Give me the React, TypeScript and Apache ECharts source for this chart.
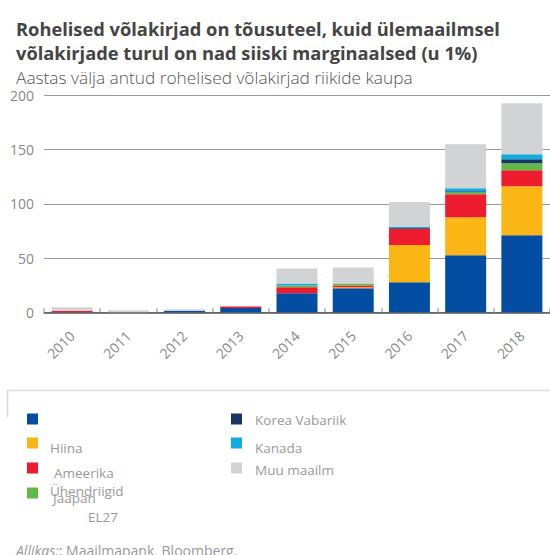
import React, { useEffect, useRef } from "react";
import * as echarts from "echarts";

const years = ["2010", "2011", "2012", "2013", "2014", "2015", "2016", "2017", "2018"];
const seriesNames = ["EL27", "Hiina", "Ameerika Ühendriigid", "Jaapan", "Korea Vabariik", "Kanada", "Muu maailm"];
const colors = ["#034ea2", "#fbb515", "#ed1c2e", "#62b847", "#1b3566", "#11ade0", "#d1d3d4"];
const el27 = [0, 0, 1.2, 4.0, 17.5, 22.1, 27.6, 52.5, 71];
const hiina = [0, 0, 0, 0, 0, 0.9, 34.4, 35.1, 45.1];
const usa = [1.3, 0, 0, 1.3, 5.5, 1.8, 14.9, 21.2, 14.8];
const jaapan = [0, 0, 0, 0, 1.8, 1.8, 0, 1.8, 6.4];
const korea = [0, 0, 0, 0, 0, 0, 0.9, 0.9, 3.7];
const kanada = [0, 0, 0, 0, 1.8, 0, 0.9, 2.8, 4.6];
const muu = [3.4, 1.8, 1.5, 0, 13.8, 14.7, 22.9, 40.5, 47];
const values = [el27, hiina, usa, jaapan, korea, kanada, muu];
const yTicks = { min: 0, max: 200, interval: 50 };

const FONT = "'Open Sans', sans-serif";

export default function App() {
  const ref = useRef<HTMLDivElement>(null);
  useEffect(() => {
    if (!ref.current) return;
    const chart = echarts.init(ref.current, null, { renderer: "svg" });
    const series = seriesNames.map((name, i) => ({
      name,
      type: "bar",
      stack: "total",
      data: values[i],
      barWidth: 41,
      itemStyle: { color: colors[i] },
      emphasis: { disabled: true },
    }));
    const legendItems = [
      { name: seriesNames[0], c: colors[0], ix: 27, iy: 419, tx: 88, ty: 517 },
      { name: seriesNames[1], c: colors[1], ix: 27, iy: 443, tx: 50, ty: 448 },
      { name: "Ameerika", c: colors[2], ix: 27, iy: 468, tx: 54, ty: 473 },
      { name: "Ühendriigid", c: "", ix: -1, iy: 0, tx: 50, ty: 491 },
      { name: seriesNames[3], c: colors[3], ix: 27, iy: 493, tx: 53, ty: 498 },
      { name: seriesNames[4], c: colors[4], ix: 231, iy: 419, tx: 255, ty: 420 },
      { name: seriesNames[5], c: colors[5], ix: 231, iy: 443, tx: 255, ty: 448 },
      { name: seriesNames[6], c: colors[6], ix: 231, iy: 468, tx: 255, ty: 470 },
    ];
    const graphics: any[] = [];
    legendItems.forEach((l) => {
      if (l.ix >= 0) {
        graphics.push({
          type: "rect",
          shape: { x: l.ix, y: l.iy - 5.5, width: 11, height: 11 },
          style: { fill: l.c },
        });
      }
      graphics.push({
        type: "text",
        x: l.tx,
        y: l.ty,
        style: { text: l.name, fill: "#999", font: `13.5px ${FONT}`, textVerticalAlign: "middle" },
      });
    });
    graphics.push({
      type: "polyline",
      shape: { points: [[7.5, 417], [7.5, 390.5], [550, 390.5]] },
      style: { stroke: "#dcdcdc", lineWidth: 1.5, fill: "none" },
    });
    graphics.push({
      type: "text",
      x: 16,
      y: 550,
      style: {
        text: "{i|Allikas:}: Maailmapank, Bloomberg.",
        fill: "#999",
        font: `14px ${FONT}`,
        textVerticalAlign: "middle",
        rich: { i: { fontStyle: "italic", fill: "#999", fontSize: 14, fontFamily: FONT } },
      },
    });
    chart.setOption({
      animation: false,
      title: [
        {
          text: "Rohelised võlakirjad on tõusuteel, kuid ülemaailmsel\nvõlakirjade turul on nad siiski marginaalsed (u 1%)",
          left: 11,
          top: 11,
          textStyle: { fontFamily: FONT, fontSize: 18.3, fontWeight: "bold", color: "#444", lineHeight: 24 },
        },
        {
          text: "Aastas välja antud rohelised võlakirjad riikide kaupa",
          left: 11,
          top: 62,
          textStyle: { fontFamily: FONT, fontSize: 17.3, fontWeight: 300, color: "#555", lineHeight: 20 },
        },
      ],
      grid: { left: 44, top: 95.3, width: 509, height: 217 },
      xAxis: {
        type: "category",
        data: years,
        axisLine: { lineStyle: { color: "#555", width: 1.5 } },
        axisTick: { show: true, inside: true, length: 4, lineStyle: { color: "#aaa", width: 1.5 } },
        axisLabel: { rotate: 45, color: "#888", fontFamily: FONT, fontSize: 14, margin: 21 },
      },
      yAxis: {
        type: "value",
        ...yTicks,
        axisLine: { show: false },
        axisTick: { show: false },
        splitLine: { lineStyle: { color: "#999", width: 1 } },
        axisLabel: { color: "#888", fontFamily: FONT, fontSize: 14, lineHeight: 12, margin: 10, padding: [5, 0, 0, 0] },
      },
      series,
      graphic: graphics,
    });
    return () => chart.dispose();
  }, []);
  return <div ref={ref} style={{ width: 550, height: 555, position: "absolute", left: 0, top: 0 }} />;
}
